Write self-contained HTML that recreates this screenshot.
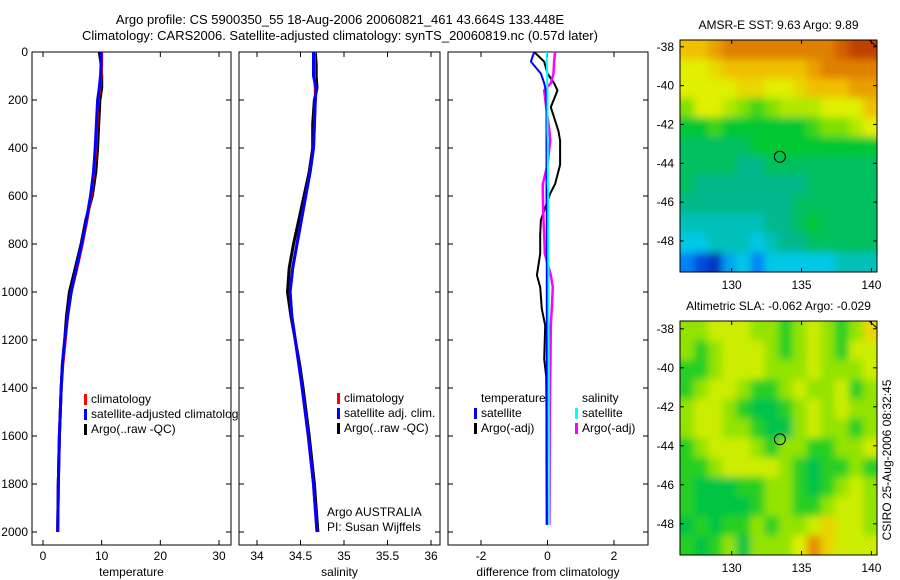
<!DOCTYPE html>
<html><head><meta charset="utf-8">
<style>
html,body{margin:0;padding:0;background:#fff;}
svg{display:block;font-family:"Liberation Sans","DejaVu Sans",sans-serif;}
text{font-size:12px;fill:#000;}
</style></head>
<body>
<svg id="fig" width="900" height="580" viewBox="0 0 900 580" xmlns="http://www.w3.org/2000/svg">
<defs>
<filter id="blur" x="-5%" y="-5%" width="110%" height="110%"><feGaussianBlur stdDeviation="4"/></filter>
<clipPath id="clip-sst"><rect x="680" y="40" width="197" height="232"/></clipPath>
<clipPath id="clip-sla"><rect x="680" y="321" width="197" height="234"/></clipPath>
</defs>
<text x="340" y="24" text-anchor="middle" style="font-size:13px">Argo profile: CS 5900350_55 18-Aug-2006 20060821_461 43.664S 133.448E</text>
<text x="340" y="40" text-anchor="middle" style="font-size:13px">Climatology: CARS2006. Satellite-adjusted climatology: synTS_20060819.nc (0.57d later)</text>
<g id="g"></g>
<text transform="translate(891,460) rotate(-90)" text-anchor="middle">CSIRO 25-Aug-2006 08:32:45</text>
</svg>
<script>
// ---- data ----
const depths = [0,50,100,150,200,300,400,500,600,700,800,900,1000,1100,1200,1300,1400,1600,1800,2000];
const tempClim = [10.0,10.0,9.9,9.7,9.4,9.2,9.0,8.7,8.2,7.5,6.7,5.8,4.8,4.2,3.8,3.4,3.1,2.8,2.6,2.5];
const tempSat  = [9.9,9.9,9.8,9.6,9.3,9.1,8.9,8.6,8.1,7.4,6.6,5.7,4.8,4.2,3.7,3.3,3.1,2.8,2.6,2.5];
const tempArgo = [9.6,9.9,10.0,10.0,9.7,9.5,9.3,9.0,8.4,7.3,6.5,5.5,4.5,4.0,3.7,3.3,3.1,2.8,2.6,2.5];
const salClim = [34.66,34.66,34.66,34.67,34.67,34.66,34.65,34.61,34.56,34.51,34.46,34.41,34.38,34.40,34.44,34.48,34.52,34.59,34.65,34.69];
const salSat  = [34.65,34.65,34.65,34.68,34.67,34.66,34.65,34.61,34.56,34.51,34.46,34.41,34.38,34.40,34.44,34.48,34.52,34.59,34.65,34.69];
const salArgo = [34.67,34.68,34.68,34.69,34.66,34.64,34.64,34.60,34.54,34.48,34.42,34.37,34.35,34.39,34.44,34.49,34.53,34.60,34.66,34.70];
const diffDepths = [0,40,90,130,160,230,330,370,470,550,590,700,760,840,930,980,1070,1140,1280,1350,1500,1700,1970];
const dTempArgo = [-0.4,-0.1,0.0,0.2,0.3,0.1,0.33,0.38,0.38,0.23,0.08,-0.2,-0.22,-0.22,-0.32,-0.22,-0.17,-0.07,-0.1,-0.04,-0.03,-0.03,-0.02];
const dTempSat  = [-0.4,-0.5,-0.2,-0.1,-0.05,-0.03,-0.03,-0.03,-0.03,-0.03,-0.03,-0.02,-0.02,-0.02,-0.02,-0.02,-0.02,-0.02,-0.02,-0.02,-0.02,-0.02,-0.02];
const dSalArgo  = [0.23,0.2,0.18,0.1,-0.1,-0.04,0.06,0.08,0.0,-0.14,-0.14,-0.12,-0.1,-0.08,0.1,0.16,0.13,0.1,0.09,0.08,0.07,0.07,0.06];
const dSalSat   = [-0.02,-0.02,-0.01,-0.01,0.0,0.0,0.0,0.01,0.01,0.01,0.02,0.02,0.02,0.02,0.03,0.03,0.03,0.03,0.04,0.04,0.04,0.05,0.05];
const depthTicks = [0,200,400,600,800,1000,1200,1400,1600,1800,2000];
const tempTicks = [0,10,20,30];
const salTicks = [34,34.5,35,35.5,36];
const diffTicks = [-2,0,2];
const lonTicks = [130,135,140];
const latTicks = [-38,-40,-42,-44,-46,-48];
const sstGrid = [
[8,8,8.5,9,9,9,9,9,9,9,9,9.5,10,10],
[7,7,7.5,8,8,8,8,8,8,8.5,9,9,9,9],
[7,7,7,7,7.5,7.5,7,7,7.5,8,8,8,8.5,8.5],
[6,7,7,6.5,6,5.5,6,6.5,6.5,6.5,7,7,7,8],
[5,5,5.5,5,5,5,5,5,5,5.5,6,6,6.5,7],
[4.5,4.5,4.5,4.5,4.5,5,5,5,5,5,5,5,5,5],
[4.5,4.5,4.5,4.5,4,4,4.5,4.5,4.5,4.5,4.5,4.5,4.5,4.5],
[4.5,4,4,4,4,4,4,4,4,4.5,4.5,4.5,4.5,4.5],
[4,4,4,4,4,4,4,4,4.5,4.5,4.5,4.5,4.5,4.5],
[3.5,3.5,3.5,3.5,3.5,3.5,4,4,4.5,5,4.5,4.5,4.5,4.5],
[3,3,3.5,3.5,3.5,3,3.5,4,4,4.5,4.5,4.5,4.5,4.5],
[2,1,0.5,2.5,3,2,3,3,3,3,3,3.5,3.5,3.5]];
const slaGrid = [
[6.2,6.2,6.8,6.8,6.8,6.2,6.2,5.3,6.2,6.8,6.2,5.3,6.2,7.5],
[6.2,5.3,6.2,6.8,6.8,6.8,6.2,5.3,6.2,6.8,6.2,5.3,6.8,6.8],
[5.3,5.3,6.2,6.8,6.8,6.8,6.2,6.2,6.2,6.8,6.2,6.2,6.2,6.8],
[5.3,6.2,6.8,6.8,6.2,5.3,5.3,6.2,6.8,6.2,6.2,6.8,5.3,6.2],
[6.2,6.8,6.8,6.2,5.3,4.7,4.7,5.3,6.2,6.8,6.2,6.8,6.2,6.2],
[6.2,6.8,6.8,6.2,6.2,5.3,4.7,4.7,6.2,6.8,6.2,6.2,5.3,6.2],
[5.3,6.2,6.8,6.8,6.8,6.2,5.3,6.2,6.2,5.3,5.3,6.2,6.2,6.8],
[5.3,5.3,6.2,6.8,6.8,6.8,6.8,6.2,5.3,4.7,5.3,5.3,6.2,5.3],
[5.3,4.8,4.8,4.8,5.3,5.3,6.2,6.2,5.3,4.7,5.3,6.2,6.8,6.2],
[5.3,4.8,4.8,4.8,4.8,5.3,6.2,6.2,5.3,5.3,6.2,6.8,6.8,6.2],
[4.8,5.3,4.8,5.3,5.3,6.2,5.3,6.2,6.2,6.8,7.6,6.8,6.8,6.2],
[5.3,4.8,5.3,6.2,4.8,6.2,6.2,6.2,7,8.8,7.6,6.8,6.8,6.8]];
const argoLon = 133.448, argoLat = -43.664;

// ---- helpers ----
const NS="http://www.w3.org/2000/svg", G=document.getElementById('g');
function mk(tag,attrs,parent){const e=document.createElementNS(NS,tag);for(const k in attrs)e.setAttribute(k,attrs[k]);(parent||G).appendChild(e);return e;}
function lin(d0,d1,r0,r1){return v=>r0+(v-d0)/(d1-d0)*(r1-r0);}
const yD = lin(0,2000,52,532);

function profilePanel(name,x0,x1,xs,ticks,xlabel,showY){
  const gp=mk('g',{});
  
  
  const r=mk('rect',{x:x0,y:52,width:x1-x0,height:493,fill:'#fff',stroke:'#000','stroke-width':1},gp);
  
  
  depthTicks.forEach(d=>{const y=yD(d);
    mk('line',{x1:x0,x2:x0+5,y1:y,y2:y,stroke:'#000'},gp);
    mk('line',{x1:x1-5,x2:x1,y1:y,y2:y,stroke:'#000'},gp);
    if(showY){const t=mk('text',{x:x0-4,y:y+4,'text-anchor':'end'},gp);t.textContent=d;
      
      }
  });
  ticks.forEach(v=>{const x=xs(v);
    mk('line',{x1:x,x2:x,y1:545,y2:540,stroke:'#000'},gp);
    mk('line',{x1:x,x2:x,y1:52,y2:57,stroke:'#000'},gp);
    const t=mk('text',{x:x,y:560,'text-anchor':'middle'},gp);t.textContent=v;
    
    
  });
  const xl=mk('text',{x:(x0+x1)/2,y:576,'text-anchor':'middle'},gp);xl.textContent=xlabel;
  
  
  return gp;
}
function line(gp,xs,ds,vals,color,w,name){
  const pts=vals.map((v,i)=>xs(v).toFixed(1)+','+yD(ds[i]).toFixed(1)).join(' ');
  const p=mk('polyline',{points:pts,fill:'none',stroke:color,'stroke-width':w},gp);
  
  
}
function legend(gp,x,y,items){
  items.forEach((it,i)=>{
    if(it[1]){mk('rect',{x:x,y:y+i*15-9,width:3,height:11,fill:it[1]},gp);}
    const t=mk('text',{x:x+7,y:y+i*15},gp);t.textContent=it[0];
    
    
  });
}

// Temperature
const xT=lin(0,30,43,219);
const pT=profilePanel('temperature',32,231,xT,tempTicks,'temperature',true);
line(pT,xT,depths,tempArgo,'#000',3,'temperature-argo-line');
line(pT,xT,depths,tempClim,'#f00',3,'temperature-climatology-line');
line(pT,xT,depths,tempSat,'#00f',3,'temperature-satellite-line');
legend(pT,84,403,[['climatology','#f00'],['satellite-adjusted climatology','#00f'],['Argo(..raw -QC)','#000']]);

// Salinity
const xS=lin(34,36,257,431);
const pS=profilePanel('salinity',239,440,xS,salTicks,'salinity',false);
line(pS,xS,depths,salArgo,'#000',3,'salinity-argo-line');
line(pS,xS,depths,salClim,'#f00',3,'salinity-climatology-line');
line(pS,xS,depths,salSat,'#00f',3,'salinity-satellite-line');
legend(pS,337,402,[['climatology','#f00'],['satellite adj. clim.','#00f'],['Argo(..raw -QC)','#000']]);
const a1=mk('text',{x:327,y:516},pS);a1.textContent='Argo AUSTRALIA';


const a2=mk('text',{x:327,y:531},pS);a2.textContent='PI: Susan Wijffels';



// Difference
const xDf=lin(-2,2,481,614);
const pD=profilePanel('difference',448,648,xDf,diffTicks,'difference from climatology',false);
line(pD,xDf,diffDepths,dTempArgo,'#000',2,'diff-temperature-argo-line');
line(pD,xDf,diffDepths,dSalArgo,'#f0f',2.5,'diff-salinity-argo-line');
line(pD,xDf,diffDepths,dTempSat,'#00f',2,'diff-temperature-satellite-line');
line(pD,xDf,diffDepths,dSalSat,'#0ff',2,'diff-salinity-satellite-line');
legend(pD,474,402,[['temperature',null],['satellite','#00f'],['Argo(-adj)','#000']]);
legend(pD,575,402,[['salinity',null],['satellite','#0ff'],['Argo(-adj)','#f0f']]);

// Maps
const cmap=[[0,[0,32,160]],[0.15,[0,96,255]],[0.3,[0,200,230]],[0.4,[0,184,140]],[0.5,[0,200,48]],[0.6,[128,224,0]],[0.7,[224,240,0]],[0.8,[240,192,0]],[0.9,[224,128,0]],[1,[192,64,0]]];
function col(v){v=Math.max(0,Math.min(1,v));for(let i=1;i<cmap.length;i++){if(v<=cmap[i][0]){const a=cmap[i-1],b=cmap[i],t=(v-a[0])/(b[0]-a[0]);return 'rgb('+a[1].map((c,k)=>Math.round(c+(b[1][k]-c)*t)).join(',')+')';}}return 'rgb(192,64,0)';}
function mapPanel(name,title,grid,y0,y1,latTop,latBot){
  const gp=mk('g',{});
  
  
  const x0=680,x1=877, xl=lin(126.3,140.4,x0,x1), yl=lin(latTop,latBot,y0,y1);
  const rows=grid.length, cols=grid[0].length, cw=(x1-x0)/cols, ch=(y1-y0)/rows;
  const clipG=mk('g',{'clip-path':'url(#clip-'+name+')'},gp);
  const blurG=mk('g',{filter:'url(#blur)'},clipG);
  for(let r=-2;r<rows+2;r++){for(let c=-2;c<cols+2;c++){
    const rr=Math.max(0,Math.min(rows-1,r)), cc=Math.max(0,Math.min(cols-1,c));
    const cell=mk('rect',{x:x0+c*cw,y:y0+r*ch,width:cw+0.6,height:ch+0.6,fill:col(grid[rr][cc]/10)},blurG);
    
    
  }}
  mk('rect',{x:x0,y:y0,width:x1-x0,height:y1-y0,fill:'none',stroke:'#000'},gp);
  mk('line',{x1:x1-8,y1:y0,x2:x1,y2:y0+7,stroke:'#000'},gp);
  const c=mk('circle',{cx:xl(argoLon),cy:yl(argoLat),r:5.5,fill:'none',stroke:'#000'},gp);
  
  
  latTicks.forEach(l=>{const y=yl(l);
    mk('line',{x1:x0,x2:x0+4,y1:y,y2:y,stroke:'#000'},gp);
    mk('line',{x1:x1-4,x2:x1,y1:y,y2:y,stroke:'#000'},gp);
    const t=mk('text',{x:x0-6,y:y+4,'text-anchor':'end'},gp);t.textContent=l;
    
    });
  lonTicks.forEach(l=>{const x=xl(l);
    mk('line',{x1:x,x2:x,y1:y1,y2:y1-4,stroke:'#000'},gp);
    mk('line',{x1:x,x2:x,y1:y0,y2:y0+4,stroke:'#000'},gp);
    const t=mk('text',{x:x,y:y1+17,'text-anchor':'middle'},gp);t.textContent=l;
    
    });
  const tt=mk('text',{x:(x0+x1)/2,y:y0-11,'text-anchor':'middle'},gp);tt.textContent=title;
  
  
}
mapPanel('sst','AMSR-E SST: 9.63 Argo: 9.89',sstGrid,40,272,-37.65,-49.6);
mapPanel('sla','Altimetric SLA: -0.062 Argo: -0.029',slaGrid,321,555,-37.6,-49.6);
</script>
</body></html>
